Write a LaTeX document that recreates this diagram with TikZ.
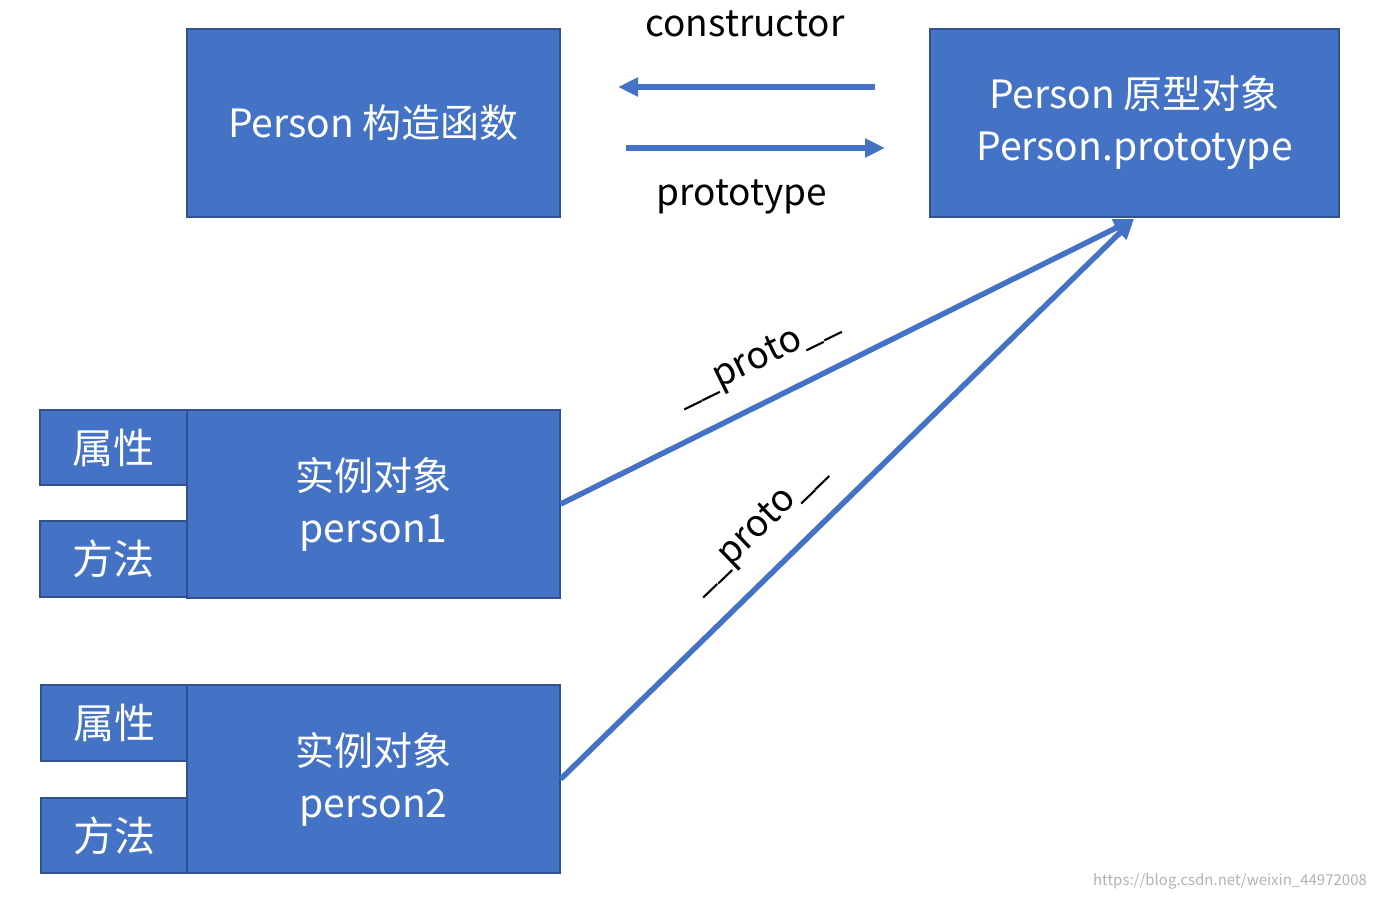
\documentclass[tikz,border=0pt]{standalone}
\usepackage{fontspec}
\setmainfont{Noto Sans CJK SC}
\usetikzlibrary{arrows.meta}
\definecolor{boxfill}{HTML}{4472C4}
\definecolor{boxline}{HTML}{2F528F}
\tikzset{
  box/.style={draw=boxline,fill=boxfill,line width=1.5pt,text=white,inner sep=0pt,align=center,font=\fontsize{39}{52}\selectfont},
  small/.style={box,font=\fontsize{41}{48}\selectfont},
  arr/.style={draw=boxfill,line width=5.5pt,-{Triangle[length=20pt,width=18pt]}},
  lbl/.style={font=\fontsize{37}{44}\selectfont,text=black},
}
\begin{document}
\begin{tikzpicture}[x=1pt,y=-1pt]
\useasboundingbox (0,0) rectangle (1375,900);
\node[box,minimum width=373pt,minimum height=188pt] (ctor) at (373.5,123) {Person 构造函数};
\node[box,minimum width=409pt,minimum height=188pt] (proto) at (1134.5,123) {Person 原型对象\\Person.prototype};
\node[box,minimum width=373pt,minimum height=188pt] (p1) at (373.5,504) {实例对象\\person1};
\node[small,minimum width=147pt,minimum height=75pt] (a1) at (113.5,447.5) {属性};
\node[small,minimum width=147pt,minimum height=76pt] (m1) at (113.5,559) {方法};
\node[box,minimum width=373pt,minimum height=188pt] (p2) at (373.5,779) {实例对象\\person2};
\node[small,minimum width=146pt,minimum height=76pt] (a2) at (114,723) {属性};
\node[small,minimum width=146pt,minimum height=75pt] (m2) at (114,835.5) {方法};
\coordinate (c1) at (875,87); \coordinate (c2) at (618,87);
\coordinate (d1) at (626,148); \coordinate (d2) at (885,148);
\draw[arr] (c1) -- (c2);
\draw[arr] (d1) -- (d2);
\node[lbl] (lc) at (745,24) {constructor};
\node[lbl] (lp) at (742,197) {prototype};
\coordinate (tip) at (1134,219);
\draw[arr] (p1.east) -- (tip);
\draw[arr] (p2.east) -- (tip);
\node[lbl,rotate=26] (l1) at (758,360) {\_\_proto\_\_};
\node[lbl,rotate=44] (l2) at (758,528) {\_\_proto\_\_};
\node[font=\fontsize{15}{18}\selectfont,text=gray!60] (wm) at (1230,881) {https://blog.csdn.net/weixin\_44972008};
\end{tikzpicture}
\end{document}
